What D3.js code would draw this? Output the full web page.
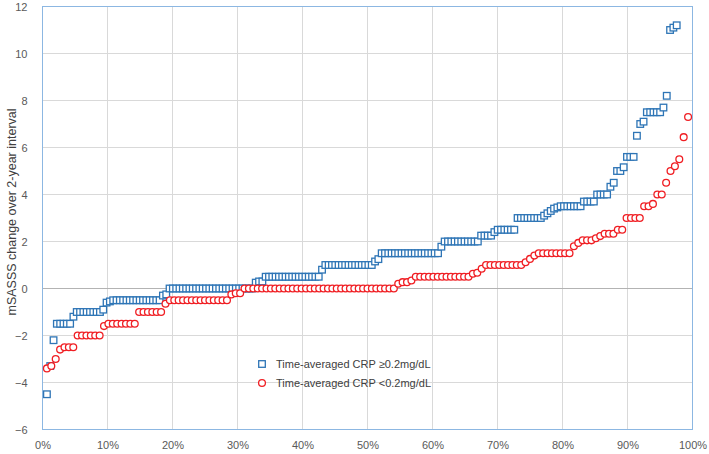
<!DOCTYPE html>
<html>
<head>
<meta charset="utf-8">
<script src="https://cdn.jsdelivr.net/npm/d3@7"></script>
<style>
  html, body { margin: 0; padding: 0; background: #ffffff; }
  svg { display: block; }
  text { font-family: "Liberation Sans", Arial, sans-serif; }
</style>
</head>
<body>
<svg id="chart" width="709" height="454"></svg>
<script>
// ---- Data ----
// mSASSS change, sorted, patients with time-averaged CRP >= 0.2 mg/dL
const blueValues = [
  -4.5, -3.3, -2.2,
  -1.5, -1.5, -1.5, -1.5, -1.5,
  -1.2,
  -1, -1, -1, -1, -1, -1, -1, -1,
  -0.9, -0.6, -0.55,
  -0.5, -0.5, -0.5, -0.5, -0.5, -0.5, -0.5, -0.5, -0.5, -0.5, -0.5, -0.5, -0.5, -0.5, -0.5,
  -0.3, -0.25,
  0, 0, 0, 0, 0, 0, 0, 0, 0, 0, 0, 0, 0, 0, 0, 0, 0, 0, 0, 0, 0, 0, 0, 0, 0, 0,
  0.25, 0.3, 0.3,
  0.5, 0.5, 0.5, 0.5, 0.5, 0.5, 0.5, 0.5, 0.5, 0.5, 0.5, 0.5, 0.5, 0.5, 0.5, 0.5, 0.5,
  0.8,
  1, 1, 1, 1, 1, 1, 1, 1, 1, 1, 1, 1, 1, 1, 1,
  1.15, 1.25,
  1.5, 1.5, 1.5, 1.5, 1.5, 1.5, 1.5, 1.5, 1.5, 1.5, 1.5, 1.5, 1.5, 1.5, 1.5, 1.5, 1.5, 1.5,
  1.78,
  2, 2, 2, 2, 2, 2, 2, 2, 2, 2, 2,
  2.25, 2.25, 2.25, 2.25,
  2.4,
  2.5, 2.5, 2.5, 2.5, 2.5, 2.5,
  3, 3, 3, 3, 3, 3, 3, 3,
  3.1, 3.2, 3.3, 3.4, 3.45,
  3.5, 3.5, 3.5, 3.5, 3.5, 3.5, 3.5,
  3.7, 3.7, 3.7, 3.7,
  4, 4, 4, 4,
  4.33, 4.5, 5, 5, 5.16, 5.6, 5.6, 5.6,
  6.5, 7, 7.1,
  7.5, 7.5, 7.5, 7.5, 7.5,
  7.7, 8.2, 11, 11.1, 11.2
];
// mSASSS change, sorted, patients with time-averaged CRP < 0.2 mg/dL
const redValues = [
  -3.4, -3.3, -3.0, -2.6,
  -2.5, -2.5, -2.5,
  -2, -2, -2, -2, -2, -2,
  -1.6,
  -1.5, -1.5, -1.5, -1.5, -1.5, -1.5, -1.5,
  -1, -1, -1, -1, -1, -1,
  -0.65,
  -0.5, -0.5, -0.5, -0.5, -0.5, -0.5, -0.5, -0.5, -0.5, -0.5, -0.5, -0.5, -0.5, -0.5,
  -0.25, -0.2, -0.2,
  0, 0, 0, 0, 0, 0, 0, 0, 0, 0, 0, 0, 0, 0, 0, 0, 0, 0, 0, 0, 0, 0, 0, 0, 0, 0, 0, 0, 0, 0, 0, 0, 0, 0, 0,
  0.2, 0.27, 0.27, 0.34,
  0.5, 0.5, 0.5, 0.5, 0.5, 0.5, 0.5, 0.5, 0.5, 0.5, 0.5, 0.5, 0.5,
  0.63, 0.67, 0.84,
  1, 1, 1, 1, 1, 1, 1, 1, 1,
  1.12, 1.26, 1.4,
  1.5, 1.5, 1.5, 1.5, 1.5, 1.5, 1.5, 1.5,
  1.8, 1.94,
  2.05, 2.05, 2.05,
  2.14, 2.23,
  2.33, 2.33, 2.33,
  2.5, 2.5,
  3, 3, 3, 3,
  3.5, 3.5, 3.6,
  4, 4,
  4.5, 5, 5.2, 5.5, 6.44, 7.3
];
// percentile range covered by each series (first and last plotted point, %)
const bluePctRange = [0.68, 97.57];
const redPctRange = [0.68, 99.32];

const seriesNames = ["Time-averaged CRP \u22650.2mg/dL", "Time-averaged CRP <0.2mg/dL"];
const xTickValues = [0, 10, 20, 30, 40, 50, 60, 70, 80, 90, 100];
const yTickValues = [-6, -4, -2, 0, 2, 4, 6, 8, 10, 12];
const yTitle = "mSASSS change over 2-year interval";

// ---- Build points: x = percentile rank within the series ----
function toPoints(values, range) {
  const n = values.length;
  return values.map((v, i) => ({
    pct: range[0] + (range[1] - range[0]) * i / (n - 1),
    value: v
  }));
}
const bluePts = toPoints(blueValues, bluePctRange);
const redPts = toPoints(redValues, redPctRange);

// ---- Layout ----
const svg = d3.select("#chart");
const pLeft = 42.5, pRight = 692.5, pTop = 6.5, pBottom = 429.5;

const x = d3.scaleLinear().domain([0, 100]).range([pLeft, pRight]);
const y = d3.scaleLinear().domain([-6, 12]).range([pBottom, pTop]);

const blue = "#2e75b6";
const red = "#f01e23";
const tickColor = "#595959";

// gridlines
const grid = svg.append("g");
grid.selectAll("line.v").data(xTickValues).enter().append("line")
  .attr("x1", d => x(d)).attr("x2", d => x(d))
  .attr("y1", pTop).attr("y2", pBottom)
  .attr("stroke", "#d9d9d9").attr("stroke-width", 1);
grid.selectAll("line.h").data(yTickValues).enter().append("line")
  .attr("x1", pLeft).attr("x2", pRight)
  .attr("y1", d => y(d)).attr("y2", d => y(d))
  .attr("stroke", d => d === 0 ? "#b3b3b3" : "#d9d9d9").attr("stroke-width", 1);

// plot area border
svg.append("rect")
  .attr("x", pLeft).attr("y", pTop)
  .attr("width", pRight - pLeft).attr("height", pBottom - pTop)
  .attr("fill", "none").attr("stroke", "#8cb7e2").attr("stroke-width", 1);

// axes (labels only)
const xAxis = d3.axisBottom(x).tickValues(xTickValues).tickFormat(d => d + "%")
  .tickSize(0).tickPadding(12);
const gx = svg.append("g").attr("transform", `translate(0,${pBottom})`).call(xAxis);
gx.select(".domain").remove();
gx.selectAll("text").attr("fill", tickColor).style("font-size", "11px")
  .style("font-family", "'Liberation Sans', Arial, sans-serif");

const yAxis = d3.axisLeft(y).tickValues(yTickValues).tickSize(0).tickPadding(15);
const gy = svg.append("g").attr("transform", `translate(${pLeft},0)`).call(yAxis);
gy.select(".domain").remove();
gy.selectAll("text").attr("fill", tickColor).style("font-size", "11px")
  .style("font-family", "'Liberation Sans', Arial, sans-serif");

// y-axis title
svg.append("text")
  .attr("transform", `translate(12,${(pTop + pBottom) / 2 - 6}) rotate(-90)`)
  .attr("text-anchor", "middle")
  .attr("dominant-baseline", "central")
  .attr("fill", "#404040")
  .style("font-size", "12.5px")
  .text(yTitle);

// markers
const sq = 6.6;
svg.append("g").selectAll("rect").data(bluePts).enter().append("rect")
  .attr("x", d => x(d.pct) - sq / 2)
  .attr("y", d => y(d.value) - sq / 2)
  .attr("width", sq).attr("height", sq)
  .attr("fill", "#ffffff").attr("stroke", blue).attr("stroke-width", 1.3);

svg.append("g").selectAll("circle").data(redPts).enter().append("circle")
  .attr("cx", d => x(d.pct))
  .attr("cy", d => y(d.value))
  .attr("r", 3.4)
  .attr("fill", "#ffffff").attr("stroke", red).attr("stroke-width", 1.3);

// legend
const legend = svg.append("g");
const legY = [364, 383];
legend.append("rect")
  .attr("x", 262 - sq / 2).attr("y", legY[0] - sq / 2)
  .attr("width", sq).attr("height", sq)
  .attr("fill", "#ffffff").attr("stroke", blue).attr("stroke-width", 1.3);
legend.append("circle")
  .attr("cx", 262).attr("cy", legY[1]).attr("r", 3.4)
  .attr("fill", "#ffffff").attr("stroke", red).attr("stroke-width", 1.3);
legend.selectAll("text").data(seriesNames).enter().append("text")
  .attr("x", 276).attr("y", (d, i) => legY[i])
  .attr("dominant-baseline", "central")
  .attr("fill", "#404040")
  .style("font-size", "11px")
  .text(d => d);
</script>
</body>
</html>
